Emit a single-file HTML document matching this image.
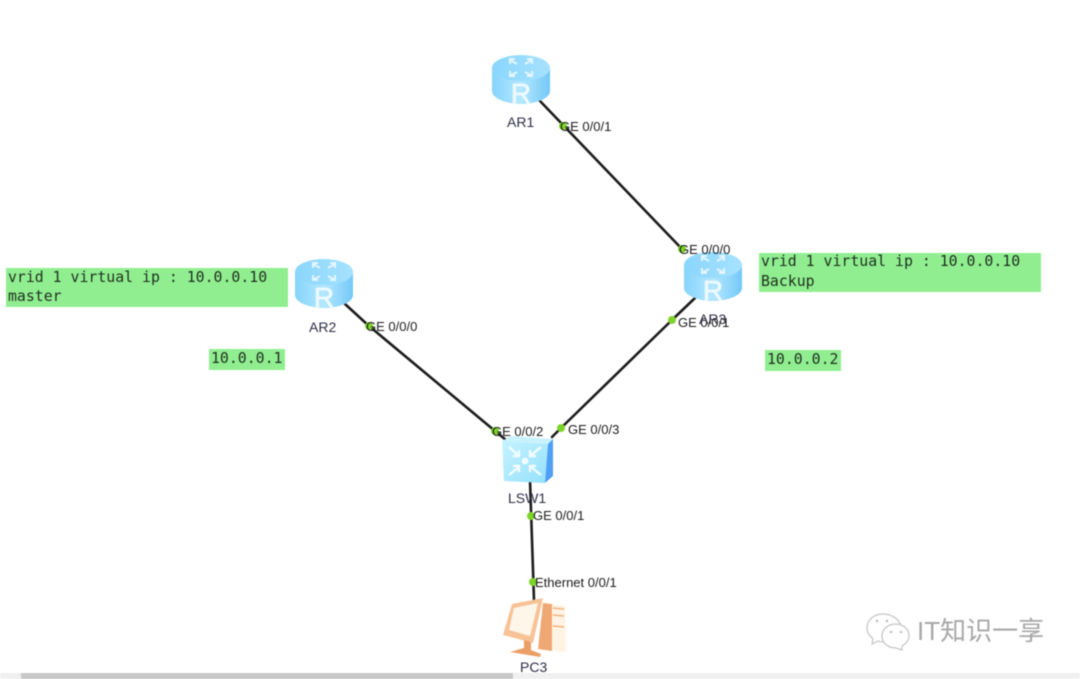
<!DOCTYPE html>
<html><head><meta charset="utf-8">
<style>
html,body{margin:0;padding:0;background:#fff;width:1080px;height:679px;overflow:hidden}
svg{display:block;filter:blur(.45px)}
.l{font:13px "Liberation Sans",sans-serif;fill:#1c1c1c}
.n{font:14px "Liberation Sans",sans-serif;fill:#2d2d45}
.m{font:14.85px "DejaVu Sans Mono","Liberation Mono",monospace;fill:#1f2f1f}
</style></head><body>
<svg width="1080" height="679" viewBox="0 0 1080 679" xmlns="http://www.w3.org/2000/svg">
<defs>
<linearGradient id="rg" x1="0" x2="1" y1="0" y2="0"><stop offset="0" stop-color="#86d4fc"/><stop offset=".5" stop-color="#b4e8ff"/><stop offset="1" stop-color="#74c8f8"/></linearGradient>
<linearGradient id="sg" x1="0" x2="1" y1="0" y2="1"><stop offset="0" stop-color="#c6f3ff"/><stop offset="1" stop-color="#94e0fc"/></linearGradient>
<linearGradient id="tg" x1="0" x2="1" y1="0" y2="0"><stop offset="0" stop-color="#8ad6fd"/><stop offset="1" stop-color="#a6e2ff"/></linearGradient>
<g id="router">
<path d="M-29 13 V36 C-29 44 -13 49 0 49 C13 49 29 44 29 36 V13 Z" fill="url(#rg)"/>
<ellipse cx="0" cy="13" rx="29" ry="13" fill="url(#tg)"/>
<g stroke="#e4f6ff" stroke-width="2" fill="none">
<path d="M-4 9 L-11 5 M-11 9 L-11 4 H-6"/><path d="M4 9 L11 5 M6 4 H11 V9"/><path d="M-4 17 L-11 21 M-11 16 V21 H-6"/><path d="M4 17 L11 21 M11 16 V21 H6"/>
</g>
<text x="0" y="48" text-anchor="middle" font-family="Liberation Sans,sans-serif" font-size="28" fill="#eef9ff" stroke="#eef9ff" stroke-width=".7">R</text>
</g>
</defs>

<g stroke="#1c1c1c" stroke-width="2.6" fill="none" stroke-linecap="round">
<line x1="540" y1="101" x2="682" y2="249"/>
<line x1="695" y1="298" x2="672" y2="320"/>
<line x1="672" y1="320" x2="561" y2="428"/>
<line x1="561" y1="428" x2="552" y2="437"/>
<line x1="345" y1="304" x2="369" y2="326"/>
<line x1="369" y1="326" x2="495" y2="431"/>
<line x1="495" y1="431" x2="506" y2="440"/>
<line x1="530" y1="480" x2="534" y2="600"/>
</g>

<use href="#router" x="521" y="55"/>
<use href="#router" x="324" y="259"/>
<use href="#router" x="713" y="252"/>

<!-- switch -->
<polygon points="502,441 511,436 553,439 548,444" fill="#c9f2ff"/>
<polygon points="502,441 548,444 545,483 504,481" fill="url(#sg)"/>
<polygon points="548,444 553,439 553,476 545,483" fill="#4f9ff5"/>
<g stroke="#f2fcff" stroke-width="2.4" fill="none">
<path d="M509 447 L519 456 M519 450 V456 H513"/>
<path d="M541 447 L530 456 M530 450 V456 H536"/>
<path d="M509 475 L519 467 M513 466 H519 V472"/>
<path d="M541 475 L531 467 M536 466 H530 V472"/>
</g>
<circle cx="525" cy="461" r="3.4" fill="#f2fcff"/>

<!-- PC -->
<polygon points="543,603 565,606 566,652 538,649" fill="#fff3e4"/>
<polygon points="543,603 552,604 552,651 538,649" fill="#efa873"/>
<g stroke="#f3b27e" stroke-width="1.6"><line x1="553" y1="608" x2="564" y2="609"/><line x1="553" y1="615" x2="564" y2="616"/><line x1="553" y1="626" x2="564" y2="627"/></g>
<polygon points="512,604 543,598 533,643 503,635" fill="#f7c296"/>
<polygon points="514,608 538,603 530,636 509,630" fill="#fff6ea"/>
<polygon points="524,640 531,642 531,650 541,654 540,657 510,652 524,648" fill="#eb9f66"/>

<!-- green boxes -->
<g fill="#90ee90">
<rect x="6" y="268" width="282" height="39"/>
<rect x="209" y="349" width="76" height="21"/>
<rect x="759" y="253" width="282" height="39"/>
<rect x="765" y="350" width="76" height="21"/>
</g>
<text class="m" x="8" y="282">vrid 1 virtual ip : 10.0.0.10</text>
<text class="m" x="8" y="301">master</text>
<text class="m" x="211" y="363">10.0.0.1</text>
<text class="m" x="761" y="266">vrid 1 virtual ip : 10.0.0.10</text>
<text class="m" x="761" y="286">Backup</text>
<text class="m" x="767" y="364">10.0.0.2</text>

<!-- dots -->
<g fill="#7ed32b">
<circle cx="563" cy="126" r="4"/><circle cx="682" cy="249" r="4"/><circle cx="672" cy="320" r="4"/>
<circle cx="561" cy="428" r="4"/><circle cx="369" cy="326" r="4"/><circle cx="495" cy="431" r="4"/>
<circle cx="531" cy="516" r="4"/><circle cx="533" cy="582" r="4"/>
</g>

<!-- labels -->
<text class="l" x="560" y="131">GE 0/0/1</text>
<text class="l" x="679" y="254">GE 0/0/0</text>
<text class="l" x="678" y="327">GE 0/0/1</text>
<text class="l" x="366" y="331">GE 0/0/0</text>
<text class="l" x="492" y="436">GE 0/0/2</text>
<text class="l" x="568" y="434">GE 0/0/3</text>
<text class="l" x="533" y="520">GE 0/0/1</text>
<text class="l" x="535" y="587">Ethernet 0/0/1</text>
<text class="n" x="507" y="127">AR1</text>
<text class="n" x="309" y="332">AR2</text>
<text class="n" x="699" y="324">AR3</text>
<text class="n" x="508" y="503">LSW1</text>
<text class="n" x="520" y="672">PC3</text>

<!-- scrollbar -->
<rect x="0" y="673" width="1080" height="6" fill="#f0f0f0"/>
<rect x="21" y="673" width="492" height="6" fill="#c8c8c8"/>

<!-- watermark -->
<g fill="#fff" stroke="#c4c4c4" stroke-width="1.2">
<path d="M883 614 C874 614 867 620 867 628 C867 633 870 636 873 639 L872 644 L878 641 C880 642 883 642 885 642 C894 642 901 636 901 628 C901 620 892 614 883 614 Z"/>
<path d="M896 624 C888 624 882 629 882 636 C882 643 888 648 896 648 L902 650 L902 646 C906 644 909 640 909 636 C909 629 903 624 896 624 Z"/>
</g>
<g fill="#b8b8b8"><circle cx="877" cy="621" r="1.2"/><circle cx="887" cy="621" r="1.2"/><circle cx="891" cy="632" r="1.2"/><circle cx="901" cy="632" r="1.2"/></g>
<text x="917" y="640" font-family="Liberation Sans,'Noto Sans CJK SC',sans-serif" font-size="26" fill="#a8a8a8">IT知识一享</text>
</svg>
</body></html>
